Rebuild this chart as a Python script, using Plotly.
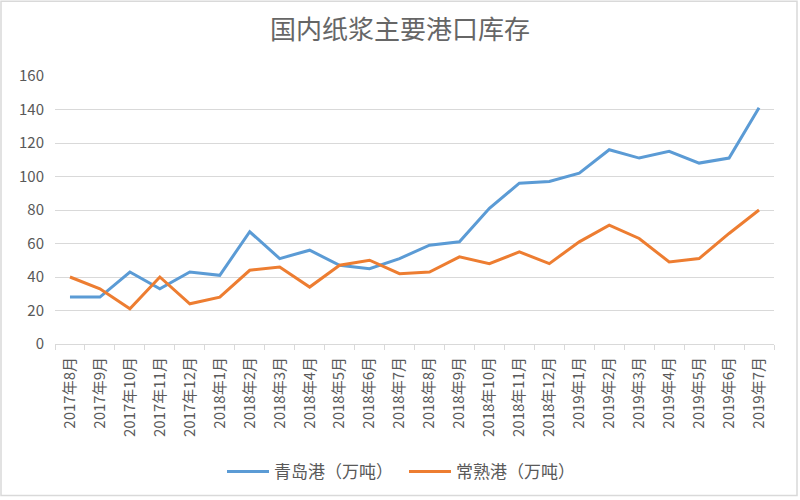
import plotly.graph_objects as go

months = ["2017年8月", "2017年9月", "2017年10月", "2017年11月", "2017年12月",
          "2018年1月", "2018年2月", "2018年3月", "2018年4月", "2018年5月",
          "2018年6月", "2018年7月", "2018年8月", "2018年9月", "2018年10月",
          "2018年11月", "2018年12月", "2019年1月", "2019年2月", "2019年3月",
          "2019年4月", "2019年5月", "2019年6月", "2019年7月"]
qingdao = [28, 28, 43, 33, 43, 41, 67, 51, 56, 47, 45, 51, 59, 61, 81, 96,
           97, 102, 116, 111, 115, 108, 111, 141]
changshu = [40, 33, 21, 40, 24, 28, 44, 46, 34, 47, 50, 42, 43, 52, 48, 55,
            48, 61, 71, 63, 49, 51, 66, 80]
yticks = [0, 20, 40, 60, 80, 100, 120, 140, 160]

FONT = "Noto Sans CJK SC"
GREY = "#595959"
W, H = 800, 500
L, R, T, B = 55, 26, 76, 155
PW, PH = W - L - R, H - T - B

fig = go.Figure()
fig.add_trace(go.Scatter(x=months, y=qingdao, mode="lines", name="青岛港（万吨）",
                         line=dict(color="#5B9BD5", width=3)))
fig.add_trace(go.Scatter(x=months, y=changshu, mode="lines", name="常熟港（万吨）",
                         line=dict(color="#ED7D31", width=3)))

fig.update_layout(
    width=W, height=H,
    margin=dict(l=L, r=R, t=T, b=B),
    paper_bgcolor="white", plot_bgcolor="white",
    font=dict(family=FONT, color=GREY, size=13),
    title=dict(text="国内纸浆主要港口库存", x=0.5, xanchor="center",
               y=1 - 30 / H, yanchor="middle",
               font=dict(family=FONT, size=26, color="#666666")),
    showlegend=True,
    legend=dict(orientation="h", x=(222 - L) / PW, xanchor="left",
                y=-(472 - (H - B)) / PH, yanchor="middle", itemwidth=42,
                entrywidth=125,
                font=dict(family=FONT, size=17, color=GREY)),
    xaxis=dict(type="category", range=[-0.5, len(months) - 0.5],
               showgrid=False, showline=True, linecolor="#D9D9D9",
               ticks="outside", tickson="boundaries", ticklen=5, tickcolor="#D9D9D9",
               ticklabelstandoff=6,
               tickangle=-90, tickfont=dict(family=FONT, size=15, color=GREY)),
    yaxis=dict(range=[0, 160], tickvals=yticks, showgrid=True, gridcolor="#D9D9D9",
               zeroline=False, showline=False, ticks="", ticklabelstandoff=10,
               tickfont=dict(family=FONT, size=15, color=GREY)),
)

fig.add_shape(type="rect", xref="paper", yref="paper",
              x0=(1 - L) / PW, x1=(797 - L) / PW,
              y0=-(497 - (H - B)) / PH, y1=1 + (T - 1) / PH,
              line=dict(color="#D9D9D9", width=1.5), fillcolor="rgba(0,0,0,0)")

fig.write_html("out.html", config={"displayModeBar": False},
               post_script="document.body.style.margin='0';")
